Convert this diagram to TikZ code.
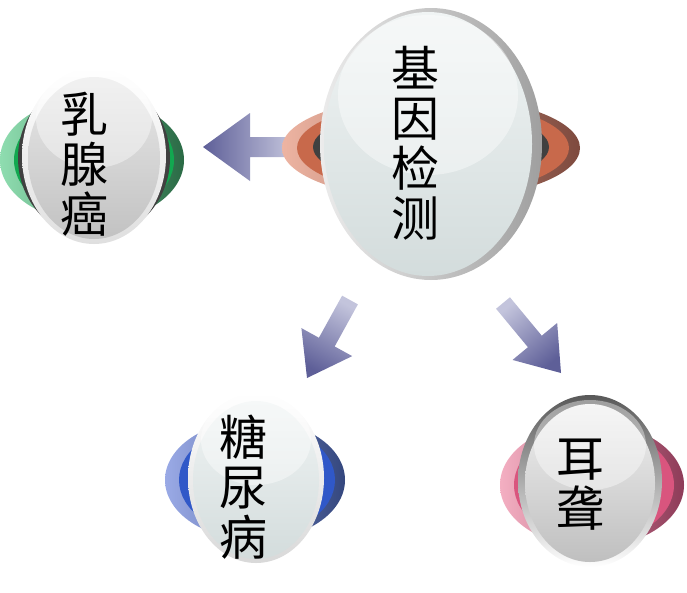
\documentclass[tikz,border=0pt]{standalone}
\usepackage{fontspec}
\newfontfamily\cjk{Noto Sans CJK SC}
\usepackage{tikz}
\usetikzlibrary{calc}

\definecolor{arrowlight}{HTML}{C3C4DC}
\definecolor{arrowdark}{HTML}{5E5F98}
\definecolor{greenpale}{HTML}{8FDDB0}
\definecolor{greenmid}{HTML}{12A850}
\definecolor{greendark}{HTML}{2A6A45}
\definecolor{rustpale}{HTML}{EDB4A2}
\definecolor{rustmid}{HTML}{C8694B}
\definecolor{rustdark}{HTML}{7E4A3E}
\definecolor{bluepale}{HTML}{9AAAE6}
\definecolor{bluemid}{HTML}{3058C8}
\definecolor{bluedark}{HTML}{34477E}
\definecolor{pinkpale}{HTML}{F4AFC2}
\definecolor{pinkmid}{HTML}{D9557E}
\definecolor{pinkdark}{HTML}{8E3B58}
\definecolor{facetop}{HTML}{F0F4F4}
\definecolor{facebot}{HTML}{D3DCDC}

% block arrow: start, tip, shading angle, shaft half width, head half width, head length
\newcommand\blockarrow[6]{%
  \path ($(#2)!#6!(#1)$) coordinate (hb);
  \shade[arrowshade=#3] ($(#1)!#4!90:(#2)$) -- ($(hb)!#4!90:(#2)$) -- ($(hb)!#5!90:(#2)$) -- (#2)
    -- ($(hb)!#5!-90:(#2)$) -- ($(hb)!#4!-90:(#2)$) -- ($(#1)!#4!-90:(#2)$) -- cycle;
}

\begin{document}
\begin{tikzpicture}[x=1pt, y=-1pt,
  ringshade/.style n args={3}{left color=#1, middle color=#2, right color=#3},
  faceshade/.style 2 args={top color=#1, bottom color=#2},
  gloss/.style={fill=white, fill opacity=.4},
  shadowrim/.style={fill=black!75},
  vtext/.style={font=\cjk\fontsize{48}{50}\selectfont, align=center, inner sep=0pt},
  arrowshade/.style={top color=arrowlight, bottom color=arrowdark, shading angle=#1}]
  \useasboundingbox (0,0) rectangle (687,592);

  % Arrow to the left
  \coordinate (toBreastA) at (292,147);
  \coordinate (toBreastB) at (203,147);
  \blockarrow{toBreastA}{toBreastB}{-90}{10pt}{34pt}{47pt}

  % Gene test button
  \shade[ringshade={rustpale}{rustmid}{rustdark}] (431,148) ellipse [x radius=149, y radius=52];
  \fill[rustmid] (433,148) ellipse [x radius=136, y radius=47];
  \fill[shadowrim] (431,147) ellipse [x radius=118, y radius=38];
  \shade[left color=gray!15, right color=gray!75] (431,144) ellipse [x radius=111, y radius=136];
  \shade[faceshade={facetop}{facebot}] (428,144) ellipse [x radius=104, y radius=132];
  \fill[gloss] (428,95) ellipse [x radius=90, y radius=80];
  \node[vtext] (gene) at (415,143) {基\\因\\检\\测};

  % Breast cancer button
  \shade[ringshade={greenpale}{greenmid}{greendark}] (92,160) ellipse [x radius=92, y radius=62];
  \fill[greenmid] (94,160) ellipse [x radius=80, y radius=57];
  \fill[shadowrim] (94,158) ellipse [x radius=76, y radius=80];
  \shade[faceshade={white}{gray!25}] (94,156) ellipse [x radius=72, y radius=88];
  \shade[faceshade={gray!18}{gray!48}] (94,158) ellipse [x radius=66, y radius=81];
  \fill[gloss] (94,118) ellipse [x radius=58, y radius=50];
  \node[vtext] (breast) at (84,164) {乳\\腺\\癌};

  % Diabetes button
  \shade[ringshade={bluepale}{bluemid}{bluedark}] (255,480) ellipse [x radius=90, y radius=60];
  \fill[bluemid] (257,480) ellipse [x radius=78, y radius=55];
  \shade[faceshade={white}{gray!30}] (256,478) ellipse [x radius=68, y radius=85];
  \shade[faceshade={facetop}{facebot}] (256,480) ellipse [x radius=63, y radius=79];
  \fill[gloss] (256,440) ellipse [x radius=55, y radius=45];
  \node[vtext] (diabetes) at (243,487) {糖\\尿\\病};

  % Deafness button
  \shade[ringshade={pinkpale}{pinkmid}{pinkdark}] (592,485) ellipse [x radius=92, y radius=62];
  \fill[pinkmid] (594,485) ellipse [x radius=80, y radius=57];
  \shade[faceshade={black!65}{white}] (590,481) ellipse [x radius=72, y radius=86];
  \shade[faceshade={gray!12}{gray!50}] (590,483) ellipse [x radius=65, y radius=79];
  \fill[gloss] (590,445) ellipse [x radius=56, y radius=45];
  \node[vtext] (deaf) at (580,485) {耳\\聋};

  % Arrows down
  \coordinate (toDiabetesA) at (350,300);
  \coordinate (toDiabetesB) at (307,378);
  \blockarrow{toDiabetesA}{toDiabetesB}{-29}{9pt}{29pt}{41pt}
  \coordinate (toDeafA) at (503,303);
  \coordinate (toDeafB) at (561,373);
  \blockarrow{toDeafA}{toDeafB}{40}{9pt}{29pt}{41pt}
\end{tikzpicture}
\end{document}
